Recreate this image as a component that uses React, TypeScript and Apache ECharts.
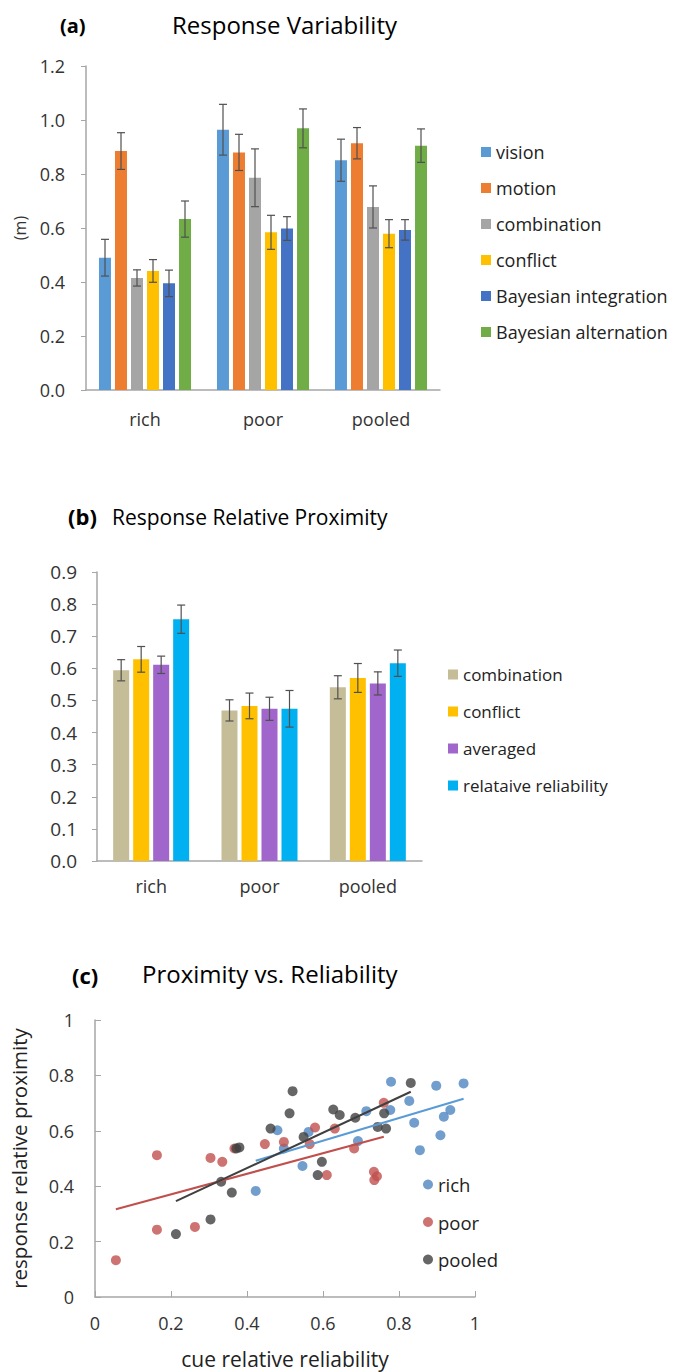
import React, { useEffect, useRef } from "react";
import * as echarts from "echarts";

const FONT = '"Open Sans", sans-serif';

// ---------- Panel (a) ----------
const catsA = ["rich", "poor", "pooled"];
const namesA = ["vision", "motion", "combination", "conflict", "Bayesian integration", "Bayesian alternation"];
const colorsA = ["#5B9BD5", "#ED7D31", "#A5A5A5", "#FFC000", "#4472C4", "#70AD47"];
const visionA = [0.49, 0.964, 0.851];
const motionA = [0.885, 0.88, 0.914];
const combinationA = [0.415, 0.786, 0.678];
const conflictA = [0.441, 0.584, 0.579];
const bayesIntA = [0.395, 0.598, 0.593];
const bayesAltA = [0.633, 0.969, 0.905];
const visionErrA = [0.068, 0.094, 0.078];
const motionErrA = [0.068, 0.067, 0.058];
const combinationErrA = [0.03, 0.107, 0.078];
const conflictErrA = [0.042, 0.063, 0.052];
const bayesIntErrA = [0.049, 0.044, 0.038];
const bayesAltErrA = [0.067, 0.072, 0.062];
const ticksA = [0, 0.2, 0.4, 0.6, 0.8, 1.0, 1.2];

// ---------- Panel (b) ----------
const catsB = ["rich", "poor", "pooled"];
const namesB = ["combination", "conflict", "averaged", "relataive reliability"];
const colorsB = ["#C4BD97", "#FFC000", "#A066CC", "#00B0F0"];
const combinationB = [0.594, 0.469, 0.541];
const conflictB = [0.628, 0.483, 0.57];
const averagedB = [0.611, 0.474, 0.553];
const relReliabilityB = [0.753, 0.474, 0.616];
const combinationErrB = [0.033, 0.033, 0.036];
const conflictErrB = [0.04, 0.04, 0.045];
const averagedErrB = [0.027, 0.036, 0.036];
const relReliabilityErrB = [0.044, 0.057, 0.041];

// ---------- Panel (c) ----------
const richX = [0.423, 0.48, 0.497, 0.546, 0.562, 0.692, 0.714, 0.777, 0.779, 0.827, 0.84, 0.855, 0.898, 0.909, 0.918, 0.935, 0.97];
const richY = [0.383, 0.602, 0.536, 0.473, 0.596, 0.563, 0.671, 0.675, 0.777, 0.708, 0.629, 0.53, 0.763, 0.584, 0.651, 0.675, 0.771];
const poorX = [0.055, 0.163, 0.163, 0.263, 0.304, 0.335, 0.367, 0.447, 0.497, 0.565, 0.579, 0.61, 0.631, 0.682, 0.734, 0.735, 0.742, 0.76];
const poorY = [0.133, 0.512, 0.243, 0.253, 0.502, 0.488, 0.536, 0.552, 0.56, 0.552, 0.612, 0.44, 0.608, 0.536, 0.452, 0.422, 0.436, 0.701];
const pooledX = [0.213, 0.304, 0.332, 0.36, 0.372, 0.38, 0.462, 0.512, 0.52, 0.549, 0.586, 0.597, 0.627, 0.644, 0.685, 0.744, 0.761, 0.766, 0.831];
const pooledY = [0.227, 0.28, 0.416, 0.377, 0.536, 0.54, 0.608, 0.663, 0.743, 0.578, 0.44, 0.488, 0.677, 0.657, 0.647, 0.614, 0.663, 0.608, 0.773];
const namesC = ["rich", "poor", "pooled"];
const colorsC = ["#4F86C2", "#C0504D", "#404040"];
const fitColorsC = ["#5B9BD5", "#C0504D", "#404040"];

const AXIS_COLOR = "#A6A6A6";
const LABEL_COLOR = "#333";

function zip(xs: number[], ys: number[]) {
  return xs.map((x, i) => [x, ys[i]]);
}

function fitLine(xs: number[], ys: number[]) {
  const n = xs.length;
  const mx = xs.reduce((a, b) => a + b, 0) / n;
  const my = ys.reduce((a, b) => a + b, 0) / n;
  let sxy = 0, sxx = 0;
  for (let i = 0; i < n; i++) {
    sxy += (xs[i] - mx) * (ys[i] - my);
    sxx += (xs[i] - mx) * (xs[i] - mx);
  }
  const b = sxy / sxx;
  const a = my - b * mx;
  const x0 = Math.min(...xs);
  const x1 = Math.max(...xs);
  return [[x0, a + b * x0], [x1, a + b * x1]];
}

function errSeries(vals: number[], errs: number[], offset: number) {
  return {
    type: "custom",
    z: 5,
    silent: true,
    encode: { x: 0, y: 1 },
    data: vals.map((v, i) => [i, v, v + errs[i], v - errs[i]]),
    renderItem: (params: any, api: any) => {
      const c = api.value(0);
      const top = api.coord([c, api.value(2)]);
      const bot = api.coord([c, api.value(3)]);
      const x = top[0] + offset;
      const cap = 4;
      const st = { stroke: "#505050", lineWidth: 1.2 };
      return {
        type: "group",
        children: [
          { type: "line", shape: { x1: x, y1: top[1], x2: x, y2: bot[1] }, style: st },
          { type: "line", shape: { x1: x - cap, y1: top[1], x2: x + cap, y2: top[1] }, style: st },
          { type: "line", shape: { x1: x - cap, y1: bot[1], x2: x + cap, y2: bot[1] }, style: st },
        ],
      };
    },
  };
}

function titleTexts(tag: string, title: string, tagX: number, titleX: number, tagTop: number, titleTop: number, tagSize: number, size: number) {
  return [
    { type: "text", left: tagX, top: tagTop, style: { text: tag, font: `bold ${tagSize}px ${FONT}`, fill: "#000" } },
    { type: "text", left: titleX, top: titleTop, style: { text: title, font: `${size}px ${FONT}`, fill: "#000" } },
  ];
}

function optionA(): any {
  const vals = [visionA, motionA, combinationA, conflictA, bayesIntA, bayesAltA];
  const errs = [visionErrA, motionErrA, combinationErrA, conflictErrA, bayesIntErrA, bayesAltErrA];
  const bw = 12, gap = 4;
  return {
    animation: false,
    textStyle: { fontFamily: FONT },
    graphic: titleTexts("(a)", "Response Variability", 60, 172, 15, 12, 20, 24),
    grid: { left: 86, top: 66, width: 354, height: 324 },
    legend: {
      orient: "vertical",
      left: 476,
      top: 138,
      itemWidth: 10,
      itemHeight: 10,
      itemGap: 18,
      icon: "rect",
      data: namesA,
      textStyle: { fontSize: 18, color: "#222", fontFamily: FONT },
    },
    xAxis: {
      type: "category",
      data: catsA,
      axisLine: { lineStyle: { color: AXIS_COLOR, width: 1.5 } },
      axisTick: { show: false },
      axisLabel: { color: LABEL_COLOR, fontSize: 18, margin: 20 },
    },
    yAxis: {
      type: "value",
      min: ticksA[0],
      max: ticksA[ticksA.length - 1],
      interval: 0.2,
      name: "(m)",
      nameLocation: "middle",
      nameGap: 58,
      nameTextStyle: { color: LABEL_COLOR, fontSize: 16 },
      axisLine: { show: true, lineStyle: { color: AXIS_COLOR, width: 1.5 } },
      axisTick: { show: true, length: 5, lineStyle: { color: AXIS_COLOR } },
      splitLine: { show: false },
      axisLabel: { color: LABEL_COLOR, fontSize: 18, margin: 21, formatter: (v: number) => v.toFixed(1) },
    },
    series: [
      ...namesA.map((n, i) => ({
        type: "bar",
        name: n,
        data: vals[i],
        barWidth: bw,
        barGap: "33.4%",
        itemStyle: { color: colorsA[i] },
      })),
      ...namesA.map((n, i) => errSeries(vals[i], errs[i], (i - 2.5) * (bw + gap))),
    ],
  };
}

function optionB(): any {
  const vals = [combinationB, conflictB, averagedB, relReliabilityB];
  const errs = [combinationErrB, conflictErrB, averagedErrB, relReliabilityErrB];
  const bw = 16, gap = 4;
  return {
    animation: false,
    textStyle: { fontFamily: FONT },
    graphic: titleTexts("(b)", "Response Relative Proximity", 68, 112, 505, 506, 22, 21),
    grid: { left: 97, top: 572, width: 325, height: 289 },
    legend: {
      orient: "vertical",
      left: 443,
      top: 661,
      itemWidth: 10,
      itemHeight: 10,
      itemGap: 20,
      icon: "rect",
      data: namesB,
      textStyle: { fontSize: 17, color: "#222", fontFamily: FONT },
    },
    xAxis: {
      type: "category",
      data: catsB,
      axisLine: { lineStyle: { color: AXIS_COLOR, width: 1.5 } },
      axisTick: { show: false },
      axisLabel: { color: LABEL_COLOR, fontSize: 18, margin: 16 },
    },
    yAxis: {
      type: "value",
      min: 0,
      max: 0.9,
      interval: 0.1,
      axisLine: { show: true, lineStyle: { color: AXIS_COLOR, width: 1.5 } },
      axisTick: { show: true, length: 5, lineStyle: { color: AXIS_COLOR } },
      splitLine: { show: false },
      axisLabel: { color: LABEL_COLOR, fontSize: 19, margin: 20, formatter: (v: number) => v.toFixed(1) },
    },
    series: [
      ...namesB.map((n, i) => ({
        type: "bar",
        name: n,
        data: vals[i],
        barWidth: bw,
        barGap: "25%",
        itemStyle: { color: colorsB[i] },
      })),
      ...namesB.map((n, i) => errSeries(vals[i], errs[i], (i - 1.5) * (bw + gap))),
    ],
  };
}

function optionC(): any {
  const xs = [richX, poorX, pooledX];
  const ys = [richY, poorY, pooledY];
  return {
    animation: false,
    textStyle: { fontFamily: FONT },
    graphic: titleTexts("(c)", "Proximity vs. Reliability", 72, 142, 964, 961, 22, 24),
    grid: { left: 91, top: 1020, width: 384, height: 277 },
    legend: {
      orient: "vertical",
      left: 418,
      top: 1170,
      itemWidth: 10,
      itemHeight: 10,
      itemGap: 18.5,
      icon: "circle",
      data: namesC,
      textStyle: { fontSize: 18.5, color: "#222", fontFamily: FONT },
    },
    xAxis: {
      type: "value",
      min: 0,
      max: 1,
      interval: 0.2,
      name: "cue relative reliability",
      nameLocation: "middle",
      nameGap: 51,
      nameTextStyle: { color: "#222", fontSize: 21 },
      axisLine: { lineStyle: { color: AXIS_COLOR, width: 1.5 } },
      axisTick: { show: true, inside: true, length: 6, lineStyle: { color: AXIS_COLOR } },
      splitLine: { show: false },
      axisLabel: { color: LABEL_COLOR, fontSize: 18, margin: 17 },
    },
    yAxis: {
      type: "value",
      min: 0,
      max: 1,
      interval: 0.2,
      name: "response relative proximity",
      nameLocation: "middle",
      nameGap: 66,
      nameTextStyle: { color: "#222", fontSize: 20.5 },
      axisLine: { show: true, lineStyle: { color: AXIS_COLOR, width: 1.5 } },
      axisTick: { show: true, inside: true, length: 6, lineStyle: { color: AXIS_COLOR } },
      splitLine: { show: false },
      axisLabel: { color: LABEL_COLOR, fontSize: 18, margin: 21 },
    },
    series: [
      ...namesC.map((n, i) => ({
        type: "scatter",
        name: n,
        data: zip(xs[i], ys[i]),
        symbolSize: 10,
        itemStyle: { color: colorsC[i] },
        z: 2,
      })),
      ...namesC.map((n, i) => ({
        type: "line",
        name: n + " fit",
        data: fitLine(xs[i], ys[i]),
        showSymbol: false,
        symbol: "none",
        lineStyle: { color: fitColorsC[i], width: 2 },
        z: 3,
      })),
    ],
  };
}

function Chart({ option }: { option: any }) {
  const ref = useRef<HTMLDivElement>(null);
  useEffect(() => {
    if (!ref.current) return;
    const chart = echarts.init(ref.current, undefined, { renderer: "svg" });
    chart.setOption(option);
    return () => chart.dispose();
  }, []);
  return (
    <div
      ref={ref}
      style={{ position: "absolute", left: 0, top: 0, width: 673, height: 1372 }}
    />
  );
}

export default function App() {
  return (
    <div style={{ position: "absolute", left: 0, top: 0, width: 673, height: 1372, background: "#fff", overflow: "hidden" }}>
      <Chart option={optionA()} />
      <Chart option={optionB()} />
      <Chart option={optionC()} />
    </div>
  );
}
